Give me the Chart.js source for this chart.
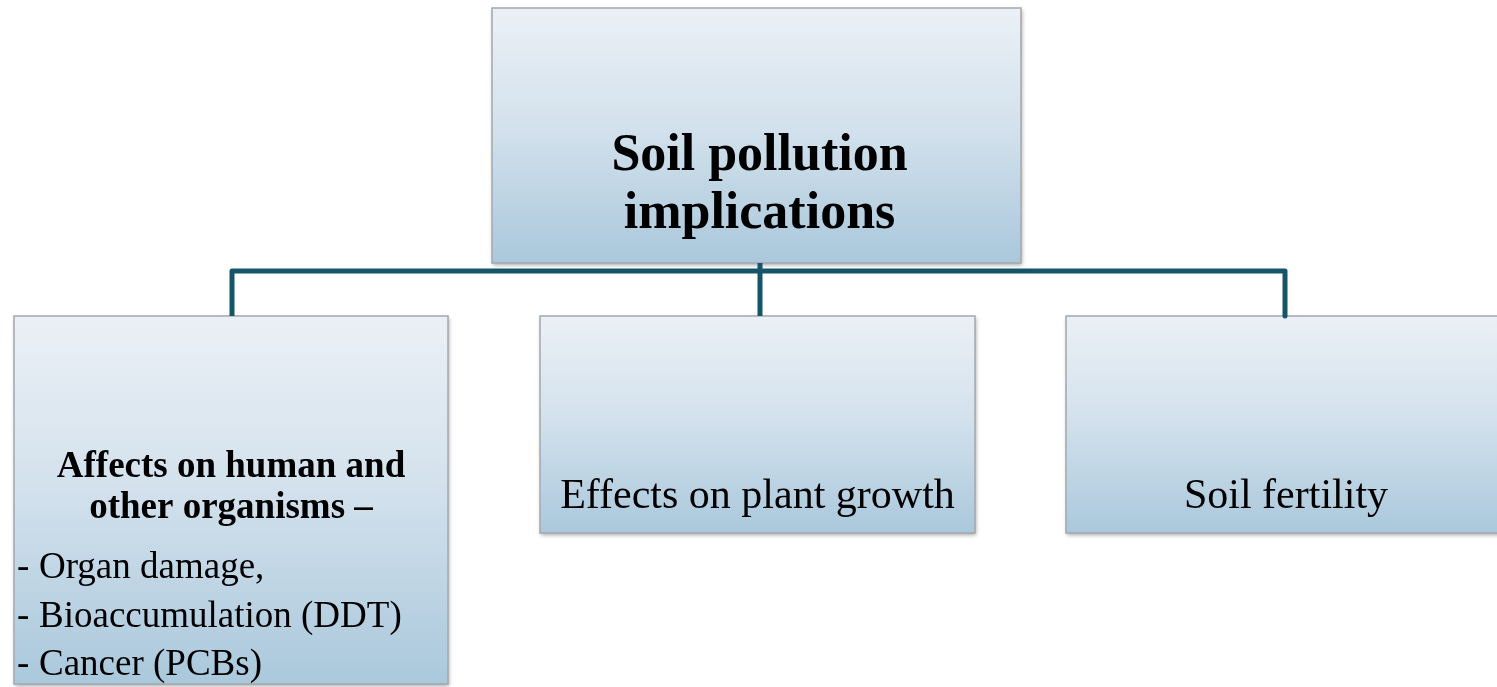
<!DOCTYPE html>
<html>
<head>
<meta charset="utf-8">
<script src="https://cdn.jsdelivr.net/npm/chart.js@4"></script>
<style>
  html, body { margin: 0; padding: 0; background: #ffffff; }
  #wrap { width: 1497px; height: 687px; position: relative; }
</style>
</head>
<body>
<div id="wrap"><canvas id="tree"></canvas></div>
<script>
// diagram content
var rootLabel = ['Soil pollution', 'implications'];
var branchTitles = [['Affects on human and', 'other organisms \u2013'], ['Effects on plant growth'], ['Soil fertility']];
var branchItems = [['Organ damage,', 'Bioaccumulation (DDT)', 'Cancer (PCBs)'], [], []];

// layout (pixel space of the page, y down)
var layout = {
  root: { x0: 492, y0: 8, x1: 1021, y1: 263, lines: [170, 228], size: 52 },
  branches: [
    { x0: 14, y0: 316, x1: 448, y1: 684, lines: [477, 518], size: 37, bold: true, items: [578, 627, 675], itemX: 17, itemTextX: 39 },
    { x0: 540, y0: 316, x1: 975, y1: 533, lines: [508], size: 42, bold: false },
    { x0: 1066, y0: 316, x1: 1508, y1: 533, lines: [508], size: 42, bold: false, cx: 1286 }
  ],
  busY: 271,
  drops: [232, 760, 1285]
};
var lineColor = '#155469';
var serif = '"Liberation Serif", "Times New Roman", serif';

// connectors built from the layout
var busPath = [
  { x: layout.drops[0], y: layout.branches[0].y0 },
  { x: layout.drops[0], y: layout.busY },
  { x: layout.drops[2], y: layout.busY },
  { x: layout.drops[2], y: layout.branches[2].y0 }
];
var stemPath = [
  { x: layout.drops[1], y: layout.root.y1 },
  { x: layout.drops[1], y: layout.branches[1].y0 }
];

function drawBox(ctx, sx, sy, b) {
  var x0 = sx.getPixelForValue(b.x0), x1 = sx.getPixelForValue(b.x1);
  var y0 = sy.getPixelForValue(b.y0), y1 = sy.getPixelForValue(b.y1);
  var g = ctx.createLinearGradient(0, y0, 0, y1);
  g.addColorStop(0, '#ebf0f6');
  g.addColorStop(0.45, '#d4e2ed');
  g.addColorStop(1, '#aac8dc');
  ctx.save();
  ctx.shadowColor = 'rgba(0,0,0,0.35)';
  ctx.shadowBlur = 4;
  ctx.shadowOffsetX = 1;
  ctx.shadowOffsetY = 2;
  ctx.fillStyle = g;
  ctx.fillRect(x0, y0, x1 - x0, y1 - y0);
  ctx.restore();
  ctx.save();
  ctx.strokeStyle = '#a3a9ae';
  ctx.lineWidth = 1.5;
  ctx.strokeRect(x0, y0, x1 - x0, y1 - y0);
  ctx.restore();
}

var boxesPlugin = {
  id: 'boxes',
  beforeDatasetsDraw: function(chart) {
    var ctx = chart.ctx, sx = chart.scales.x, sy = chart.scales.y;
    drawBox(ctx, sx, sy, layout.root);
    layout.branches.forEach(function(b) { drawBox(ctx, sx, sy, b); });
  },
  afterDatasetsDraw: function(chart) {
    var ctx = chart.ctx, sx = chart.scales.x, sy = chart.scales.y;
    ctx.save();
    ctx.fillStyle = '#000000';
    ctx.textBaseline = 'alphabetic';

    // root
    var r = layout.root;
    ctx.font = 'bold ' + r.size + 'px ' + serif;
    ctx.textAlign = 'center';
    rootLabel.forEach(function(t, i) {
      ctx.fillText(t, sx.getPixelForValue((r.x0 + r.x1) / 2 + 3), sy.getPixelForValue(r.lines[i]));
    });

    // branches
    layout.branches.forEach(function(b, k) {
      var cx = b.cx !== undefined ? b.cx : (b.x0 + b.x1) / 2;
      ctx.font = (b.bold ? 'bold ' : '') + b.size + 'px ' + serif;
      ctx.textAlign = 'center';
      branchTitles[k].forEach(function(t, i) {
        ctx.fillText(t, sx.getPixelForValue(cx), sy.getPixelForValue(b.lines[i]));
      });
      if (branchItems[k].length) {
        ctx.font = b.size + 'px ' + serif;
        ctx.textAlign = 'left';
        branchItems[k].forEach(function(t, i) {
          var y = sy.getPixelForValue(b.items[i]);
          ctx.fillText('-', sx.getPixelForValue(b.itemX), y);
          ctx.fillText(t, sx.getPixelForValue(b.itemTextX), y);
        });
      }
    });
    ctx.restore();
  }
};

new Chart(document.getElementById('tree').getContext('2d'), {
  type: 'scatter',
  data: {
    datasets: [{
      data: busPath,
      showLine: true,
      borderColor: lineColor,
      borderWidth: 5,
      borderJoinStyle: 'round',
      borderCapStyle: 'butt',
      pointRadius: 0,
      fill: false
    }, {
      data: stemPath,
      showLine: true,
      borderColor: lineColor,
      borderWidth: 5,
      borderCapStyle: 'butt',
      pointRadius: 0,
      fill: false
    }]
  },
  options: {
    responsive: true,
    maintainAspectRatio: false,
    animation: false,
    layout: { padding: 0 },
    plugins: { legend: { display: false }, tooltip: { enabled: false } },
    scales: {
      x: { type: 'linear', min: 0, max: 1497, display: false },
      y: { type: 'linear', min: 0, max: 687, reverse: true, display: false }
    }
  },
  plugins: [boxesPlugin]
});
</script>
</body>
</html>
